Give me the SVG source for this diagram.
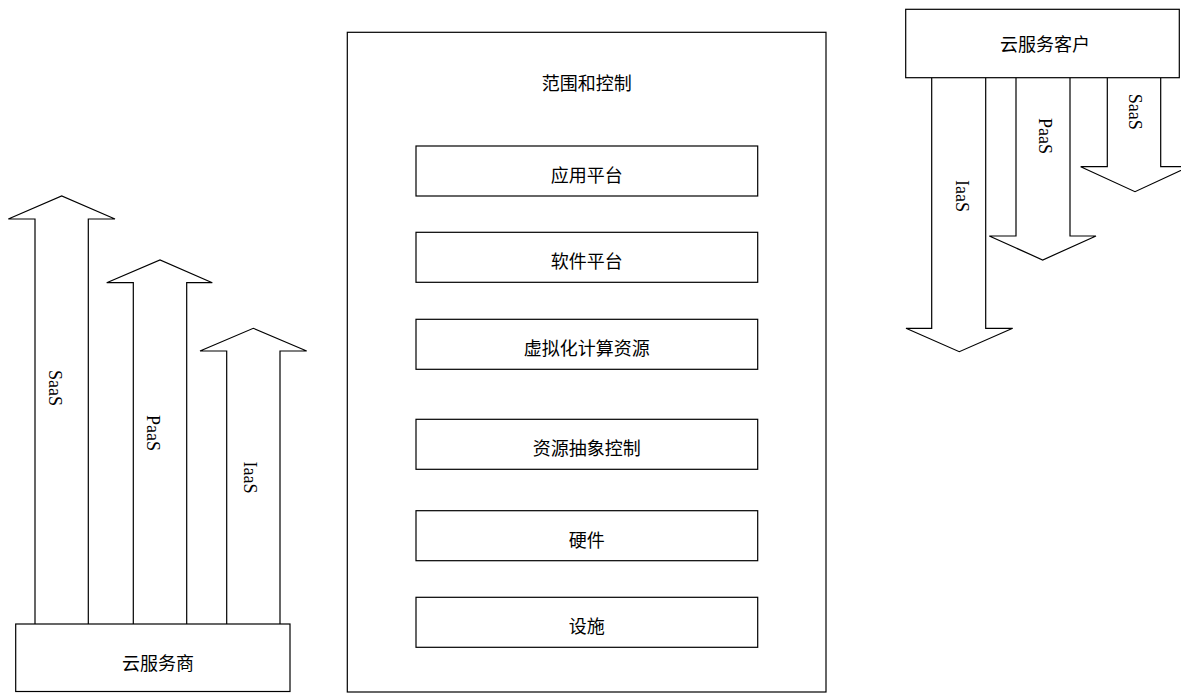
<svg xmlns="http://www.w3.org/2000/svg" width="1181" height="693" viewBox="0 0 1181 693">
<style>
  .box { fill: #ffffff; stroke: #000000; stroke-width: 1.2; }
  .arrow { fill: none; stroke: #000000; stroke-width: 1.2; stroke-linejoin: miter; }
  .cn { font-family: "Noto Sans CJK SC", "Liberation Serif", sans-serif; font-size: 18px; fill: #000000; text-anchor: middle; dominant-baseline: central; }
  .lat { font-family: "Liberation Serif", "Times New Roman", serif; font-size: 18px; fill: #000000; text-anchor: middle; }
</style>
<rect width="1181" height="693" fill="#ffffff"/>

<g id="connectors">
  <g id="provider-saas">
    <path class="arrow" d="M35,624 V219 H8.3 L61.7,196 L115,219 H88.3 V624"/>
    <text class="lat" transform="translate(49,388) rotate(90)">SaaS</text>
  </g>
  <g id="provider-paas">
    <path class="arrow" d="M133.3,624 V282.7 H106.7 L160,260 L212.3,282.7 H186.7 V624"/>
    <text class="lat" transform="translate(146.5,433) rotate(90)">PaaS</text>
  </g>
  <g id="provider-iaas">
    <path class="arrow" d="M226.7,624 V351 H200 L253.3,328.3 L306.7,351 H280 V624"/>
    <text class="lat" transform="translate(243.5,477.5) rotate(90)">IaaS</text>
  </g>
  <g id="customer-iaas">
    <path class="arrow" d="M931.7,77.7 V328.3 H906 L959.3,351.7 L1012.7,328.3 H985.7 V77.7"/>
    <text class="lat" transform="translate(956,196) rotate(90)">IaaS</text>
  </g>
  <g id="customer-paas">
    <path class="arrow" d="M1016,77.7 V236 H989.3 L1042.7,260 L1096,236 H1070 V77.7"/>
    <text class="lat" transform="translate(1038.5,136) rotate(90)">PaaS</text>
  </g>
  <g id="customer-saas">
    <path class="arrow" d="M1107.3,77.7 V166.7 H1080.7 L1135,191.7 L1189,166.7 H1160.7 V77.7"/>
    <text class="lat" transform="translate(1128.5,111.7) rotate(90)">SaaS</text>
  </g>
</g>

<g id="provider">
  <rect class="box" x="15.7" y="624" width="274.3" height="67.5"/>
  <text class="cn" x="158" y="662">云服务商</text>
</g>

<g id="customer">
  <rect class="box" x="905.7" y="9.3" width="273.6" height="68.4"/>
  <text class="cn" x="1045" y="43">云服务客户</text>
</g>

<g id="scope">
  <rect class="box" x="347.3" y="32.3" width="478.7" height="659.7"/>
  <text class="cn" x="586.8" y="82">范围和控制</text>
</g>

<g id="app-platform">
  <rect class="box" x="416" y="146" width="341.7" height="50"/>
  <text class="cn" x="586.8" y="174">应用平台</text>
</g>

<g id="software-platform">
  <rect class="box" x="416" y="232.3" width="341.7" height="50"/>
  <text class="cn" x="586.8" y="260">软件平台</text>
</g>

<g id="virtual-resources">
  <rect class="box" x="416" y="319.3" width="341.7" height="50"/>
  <text class="cn" x="586.8" y="347">虚拟化计算资源</text>
</g>

<g id="resource-abstraction">
  <rect class="box" x="416" y="419.3" width="341.7" height="50"/>
  <text class="cn" x="586.8" y="447">资源抽象控制</text>
</g>

<g id="hardware">
  <rect class="box" x="416" y="510.7" width="341.7" height="50"/>
  <text class="cn" x="586.8" y="538.5">硬件</text>
</g>

<g id="facility">
  <rect class="box" x="416" y="597.3" width="341.7" height="50"/>
  <text class="cn" x="586.8" y="625">设施</text>
</g>
</svg>
